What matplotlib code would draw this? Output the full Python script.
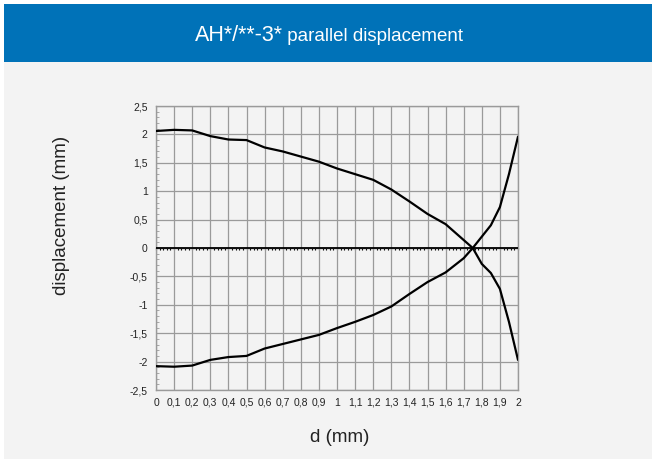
import matplotlib
matplotlib.use("Agg")
import matplotlib.pyplot as plt
from matplotlib.patches import Rectangle
from matplotlib.ticker import MultipleLocator

plt.rcParams['font.family'] = ['Liberation Sans', 'DejaVu Sans']

# data
d_mm = [0.0, 0.1, 0.2, 0.3, 0.4, 0.5, 0.6, 0.7, 0.8, 0.9, 1.0, 1.1, 1.2,
        1.3, 1.4, 1.5, 1.6, 1.7, 1.75, 1.8, 1.85, 1.9, 1.95, 2.0]
falling = [2.06, 2.08, 2.07, 1.97, 1.91, 1.90, 1.77, 1.70, 1.61, 1.52, 1.40, 1.30,
           1.20, 1.03, 0.82, 0.60, 0.42, 0.14, 0.0, -0.28, -0.44, -0.72, -1.30, -1.97]
rising = [-2.08, -2.09, -2.07, -1.97, -1.92, -1.90, -1.77, -1.69, -1.61, -1.53, -1.41, -1.30,
          -1.18, -1.03, -0.81, -0.60, -0.43, -0.18, 0.0, 0.20, 0.40, 0.72, 1.30, 1.96]

x_ticks = [i / 10 for i in range(21)]
x_labels = ['0', '0,1', '0,2', '0,3', '0,4', '0,5', '0,6', '0,7', '0,8', '0,9', '1',
            '1,1', '1,2', '1,3', '1,4', '1,5', '1,6', '1,7', '1,8', '1,9', '2']
y_ticks = [-2.5, -2, -1.5, -1, -0.5, 0, 0.5, 1, 1.5, 2, 2.5]
y_labels = ['-2,5', '-2', '-1,5', '-1', '-0,5', '0', '0,5', '1', '1,5', '2', '2,5']

W, H = 652, 459
fig = plt.figure(figsize=(W / 100, H / 100), dpi=100, facecolor='white')

# background panels
fig.patches.append(Rectangle((4 / W, 0), 1, 1 - 62 / H, transform=fig.transFigure,
                             facecolor='#f3f3f3', edgecolor='none', zorder=-2))
fig.patches.append(Rectangle((4 / W, 1 - 62 / H), 1, 58 / H, transform=fig.transFigure,
                             facecolor='#0072b8', edgecolor='none', zorder=-1))

ax = fig.add_axes([156 / W, 1 - 390 / H, 362 / W, 284 / H])
ax.set_facecolor('none')
grey = '#9a9a9a'

ax.plot(d_mm, falling, color='black', lw=1.6, solid_joinstyle='round',
        solid_capstyle='round', zorder=4)
ax.plot(d_mm, rising, color='black', lw=1.6, solid_joinstyle='round',
        solid_capstyle='round', zorder=4)
ax.axhline(0, color='black', lw=1.3, zorder=3)

ax.set_xlim(0, 2)
ax.set_ylim(-2.5, 2.5)
ax.set_xticks(x_ticks)
ax.set_xticklabels(x_labels)
ax.set_yticks(y_ticks)
ax.set_yticklabels(y_labels)
ax.yaxis.set_minor_locator(MultipleLocator(0.1))
ax.tick_params(axis='both', which='major', length=0, labelsize=7.5, colors='#222222')
ax.tick_params(axis='x', pad=5.5)
ax.tick_params(axis='y', pad=6)
ax.tick_params(axis='y', which='minor', direction='in', length=2.5, width=0.6, color=grey)
ax.grid(True, which='major', color=grey, lw=0.9)
for s in ax.spines.values():
    s.set_color(grey)
    s.set_linewidth(1.0)

# little ticks along the zero line
sec = ax.secondary_xaxis(0.5)
sec.set_xticks([])
sec.xaxis.set_minor_locator(MultipleLocator(0.02))
sec.tick_params(which='minor', direction='in', length=1.5, width=0.8, color='black')
sec.spines['bottom'].set_visible(False)

ax.set_ylabel('displacement (mm)', fontsize=13.5, color='#222222')
ax.yaxis.set_label_coords((61 - 156) / 362, (390 - 215) / 284)
ax.yaxis.label.set_va('center')
ax.set_xlabel('d (mm)', fontsize=13.5, color='#222222')
ax.xaxis.set_label_coords((340 - 156) / 362, (390 - 438) / 284)
ax.xaxis.label.set_va('center')

# header title, two sizes centred together
renderer = fig.canvas.get_renderer()
t1 = fig.text(0, 1 - 41 / H, 'AH*/**-3*', color='white', fontsize=15.5, va='baseline')
t2 = fig.text(0, 1 - 41 / H, ' parallel displacement', color='white', fontsize=13.5, va='baseline')
w1 = t1.get_window_extent(renderer).width
w2 = t2.get_window_extent(renderer).width
start = 329 - (w1 + w2) / 2
t1.set_x(start / W)
t2.set_x((start + w1) / W)

fig.savefig('out.png', dpi=100, facecolor=fig.get_facecolor())
